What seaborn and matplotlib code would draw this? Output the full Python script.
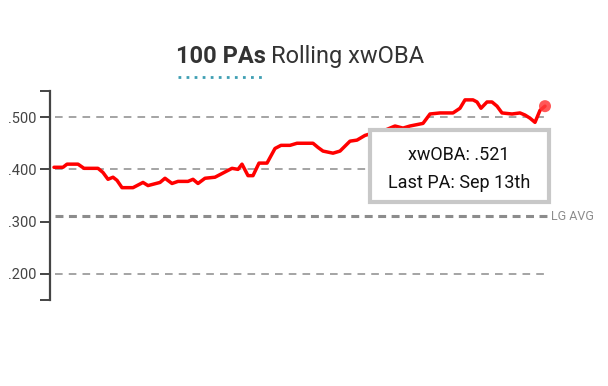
import matplotlib
matplotlib.use("Agg")
import matplotlib.pyplot as plt
import seaborn as sns
import pandas as pd
from matplotlib.patches import Rectangle
from matplotlib.lines import Line2D

# -----------------------------------------------------------------------------
# Datos: xwOBA movil de 100 PAs
# -----------------------------------------------------------------------------
pa_num = [0, 9, 13, 24, 30, 44, 49, 54, 59, 63, 68, 79, 89, 94, 106, 111, 118,
          124, 134, 139, 144, 151, 161, 168, 178, 184, 188, 194, 199, 205, 213,
          221, 227, 236, 243, 259, 264, 269, 279, 286, 296, 303, 311, 318, 331,
          341, 349, 356, 369, 376, 386, 394, 399, 406, 411, 419, 423, 427, 433,
          438, 443, 448, 458, 466, 471, 476, 481, 486, 491]
xwoba = [.404, .404, .410, .410, .402, .402, .394, .381, .385, .379, .365, .365,
         .375, .369, .375, .383, .373, .377, .377, .381, .373, .383, .385, .392,
         .402, .400, .410, .388, .388, .412, .412, .440, .446, .446, .450, .450,
         .442, .435, .431, .435, .454, .456, .465, .469, .475, .483, .479, .483,
         .488, .506, .508, .508, .508, .517, .533, .533, .529, .517, .529, .529,
         .521, .508, .506, .508, .504, .498, .490, .513, .521]
y_ticks = [.150, .200, .300, .400, .500, .550]
y_labels = ["", ".200", ".300", ".400", ".500", ""]
grid_vals = [.200, .400, .500]
lg_avg = 0.310
ultimo_xwoba = ".521"
ultimo_pa = "Sep 13th"

df = pd.DataFrame({"pa": pa_num, "xwoba": xwoba})

sns.set_style("white")
plt.rcParams["font.family"] = ["Roboto", "DejaVu Sans"]

W, H = 608, 386
fig = plt.figure(figsize=(W / 100, H / 100), dpi=100)
ax = fig.add_axes([50 / W, 1 - 300 / H, 498 / W, 209 / H])

# lineas de referencia
for t in grid_vals:
    ax.hlines(t, 1, 494, colors="#8c8c8c", linewidth=1.1,
              linestyles=(0, (5, 4)), zorder=1)
ax.hlines(lg_avg, 1, 494, colors="#8c8c8c", linewidth=2.2,
          linestyles=(0, (2.6, 1.8)), zorder=1)
ax.text(497, lg_avg, "LG AVG", fontsize=9, color="#8c8c8c",
        va="center", ha="left", clip_on=False)

# linea principal
sns.lineplot(data=df, x="pa", y="xwoba", ax=ax, color="#ff0000",
             linewidth=2.5, zorder=3)
ax.scatter(df["pa"].iloc[-1:], df["xwoba"].iloc[-1:], s=75,
           color="#ff3b3b", alpha=0.85, zorder=4, edgecolor="none",
           clip_on=False)

ax.set_xlim(-4, 494)
ax.set_ylim(0.15, 0.55)
ax.set_yticks(y_ticks)
ax.set_yticklabels(y_labels, fontsize=10.5, color="#444444")
ax.set_xticks([])
ax.set_xlabel("")
ax.set_ylabel("")
for s in ["top", "right", "bottom"]:
    ax.spines[s].set_visible(False)
ax.spines["left"].set_color("#444444")
ax.spines["left"].set_linewidth(1.6)
ax.tick_params(axis="y", length=7, width=1.4, color="#444444", pad=3, left=True)

# titulo
fig.text(266 / W, 1 - 63 / H, "100 PAs", fontsize=17, fontweight="bold",
         color="#333333", ha="right", va="baseline")
fig.text(271 / W, 1 - 63 / H, "Rolling xwOBA", fontsize=17,
         color="#333333", ha="left", va="baseline")
fig.add_artist(Line2D([178 / W, 266 / W], [1 - 77 / H, 1 - 77 / H],
                      transform=fig.transFigure, color="#3f9fb3",
                      linewidth=2.0, linestyle=(0, (1, 1.9)),
                      dash_capstyle="butt"))

# cuadro de informacion
caja = Rectangle((370 / W, 1 - 202 / H), 179 / W, 72 / H,
                 transform=fig.transFigure, facecolor="white",
                 edgecolor="#c8c8c8", linewidth=3, zorder=10, clip_on=False)
ax.add_patch(caja)
ax.text(459 / W, 1 - 155 / H, f"xwOBA: {ultimo_xwoba}", transform=fig.transFigure,
        ha="center", va="center", fontsize=13, color="#111111", zorder=11)
ax.text(459 / W, 1 - 183 / H, f"Last PA: {ultimo_pa}", transform=fig.transFigure,
        ha="center", va="center", fontsize=13, color="#111111", zorder=11)

fig.savefig("out.png", dpi=100)
plt.close(fig)
